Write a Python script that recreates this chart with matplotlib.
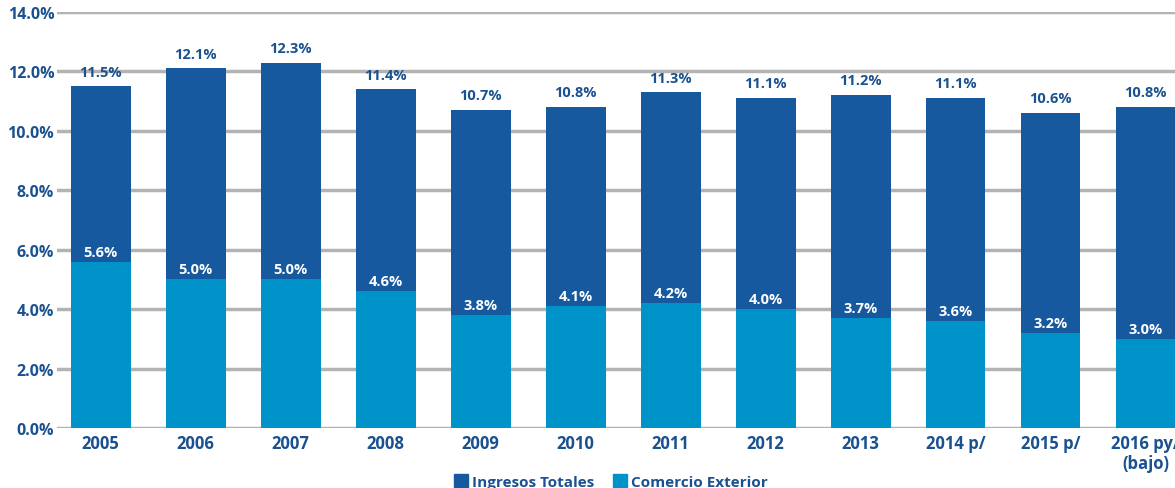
import matplotlib
matplotlib.use("Agg")
import matplotlib.pyplot as plt
from matplotlib.patches import Patch
import numpy as np

categories = ["2005", "2006", "2007", "2008", "2009", "2010", "2011", "2012",
              "2013", "2014 p/", "2015 p/", "2016 py/\n(bajo)"]
ingresos_totales = [11.5, 12.1, 12.3, 11.4, 10.7, 10.8, 11.3, 11.1, 11.2, 11.1, 10.6, 10.8]
comercio_exterior = [5.6, 5.0, 5.0, 4.6, 3.8, 4.1, 4.2, 4.0, 3.7, 3.6, 3.2, 3.0]
yticks = [0, 2, 4, 6, 8, 10, 12, 14]

dark = "#17599e"
light = "#0093c9"
text_c = "#1a5190"
grid_c = "#b3b3b3"
font = ["Open Sans", "DejaVu Sans"]

fig = plt.figure(figsize=(11.75, 4.89), dpi=100)
ax = fig.add_axes([0.0485, 0.1227, 0.9515, 0.8507])
x = np.arange(len(categories))
w = 0.63
ax.bar(x, ingresos_totales, width=w, color=dark, zorder=3, label="Ingresos Totales")
ax.bar(x, comercio_exterior, width=w, color=light, zorder=4, label="Comercio Exterior")

for xi, v in zip(x, ingresos_totales):
    ax.text(xi, v + 0.26, f"{v:.1f}%", ha="center", va="bottom", color=text_c,
            fontsize=10.5, fontweight="bold", family=font, zorder=5)
for xi, v in zip(x, comercio_exterior):
    ax.text(xi, v + 0.1, f"{v:.1f}%", ha="center", va="bottom", color="white",
            fontsize=10.5, fontweight="bold", family=font, zorder=5)

ax.set_xlim(-0.46, 11.31)
ax.set_ylim(0, 14)
ax.set_yticks(yticks)
ax.set_yticklabels([f"{t:.1f}%" for t in yticks])
ax.set_xticks(x)
ax.set_xticklabels(categories, linespacing=1.15)
for lab in ax.get_yticklabels():
    lab.set_family(font)
    lab.set_fontweight("bold")
    lab.set_fontsize(11.5)
    lab.set_color(text_c)
for lab in ax.get_xticklabels():
    lab.set_family(font)
    lab.set_fontweight("bold")
    lab.set_fontsize(12)
    lab.set_color(text_c)
ax.tick_params(axis="both", length=0)
ax.tick_params(axis="y", pad=2)
ax.tick_params(axis="x", pad=4)
for s in ax.spines.values():
    s.set_visible(False)
ax.yaxis.grid(True, color=grid_c, linewidth=2.5, zorder=0)
ax.set_axisbelow(True)

handles = [Patch(color=dark, label="Ingresos Totales"), Patch(color=light, label="Comercio Exterior")]
leg = fig.legend(handles=handles, loc="lower center", bbox_to_anchor=(0.52, -0.03), ncol=2,
                 frameon=False, handlelength=0.9, handleheight=0.9, handletextpad=0.3,
                 columnspacing=1.2, prop={"family": font, "weight": "bold", "size": 11})
for t in leg.get_texts():
    t.set_color(text_c)

fig.savefig("out.png", dpi=100)
